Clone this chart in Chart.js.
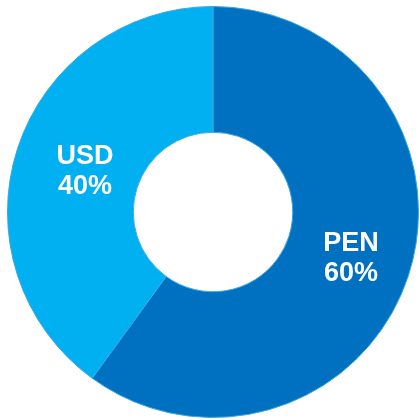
<!DOCTYPE html>
<html>
<head>
<meta charset="utf-8">
<script src="https://cdn.jsdelivr.net/npm/chart.js@4/dist/chart.umd.min.js"></script>
<style>
  html, body { margin: 0; padding: 0; background: #fff; }
  #wrap { width: 420px; height: 420px; }
</style>
</head>
<body>
<div id="wrap"><canvas id="currencyChart"></canvas></div>
<script>
var currencies = ['PEN', 'USD'];
var shares = [60, 40];
var sliceColors = ['#0070C0', '#00B0F0'];

// writes "NAME / xx%" in the middle of every slice
var sliceLabels = {
    id: 'sliceLabels',
    afterDatasetsDraw: function (chart) {
        var ctx = chart.ctx;
        var arcs = chart.getDatasetMeta(0).data;
        ctx.save();
        ctx.fillStyle = '#ffffff';
        ctx.font = 'bold 27px "Liberation Sans", Arial, sans-serif';
        ctx.textAlign = 'center';
        ctx.textBaseline = 'middle';
        arcs.forEach(function (arc, i) {
            var p = arc.getProps(['x', 'y', 'startAngle', 'endAngle', 'outerRadius'], true);
            var mid = (p.startAngle + p.endAngle) / 2;
            var r = p.outerRadius * 0.68;
            var x = p.x + Math.cos(mid) * r + 5;
            var y = p.y + Math.sin(mid) * r + 3;
            ctx.fillText(currencies[i], x, y - 15);
            ctx.fillText(shares[i] + '%', x, y + 15);
        });
        ctx.restore();
    }
};

var ctx = document.getElementById('currencyChart');

new Chart(ctx, {
    type: 'doughnut',
    data: {
        labels: currencies,
        datasets: [{
            data: shares,
            backgroundColor: sliceColors,
            borderColor: '#3aa6e6',
            borderWidth: 1
        }]
    },
    options: {
        responsive: true,
        maintainAspectRatio: false,
        animation: false,
        cutout: '38.8%',
        layout: { padding: { left: 7, right: 1, top: 6, bottom: 2 } },
        plugins: {
            legend: { display: false },
            tooltip: { enabled: false }
        }
    },
    plugins: [sliceLabels]
});
</script>
</body>
</html>
